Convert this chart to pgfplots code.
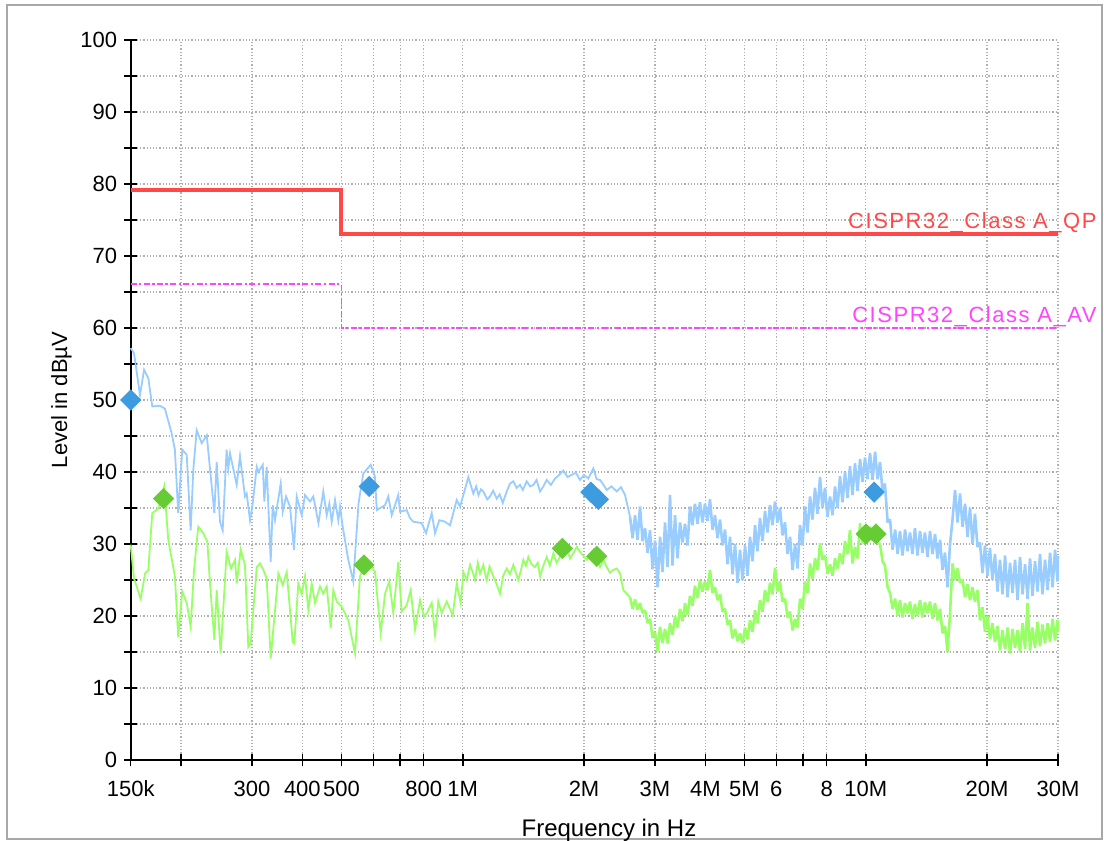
\documentclass[border=0pt]{standalone}
\usepackage{fontspec}
\setmainfont{Liberation Sans}
\newfontfamily\limfont[LetterSpace=7]{Liberation Sans}
\usepackage{pgfplots}
\usepackage{pgfplotstable}
\pgfplotsset{compat=1.18}

\definecolor{qpred}{HTML}{FF4848}
\definecolor{avmag}{HTML}{FF44FF}
\definecolor{pkblue}{HTML}{99CCFF}
\definecolor{avgreen}{HTML}{99FF66}
\definecolor{mkblue}{HTML}{3D9BE0}
\definecolor{mkgreen}{HTML}{66CC33}
\definecolor{gridgray}{HTML}{B0B0B0}
\definecolor{framegray}{HTML}{A8A8A8}

% dense part of the scan, f in MHz, b = peak trace, g = average trace
\pgfplotstableread{
f b g
2.601 33.8 22.6
2.639 30.8 21.0
2.677 34.0 22.3
2.715 30.6 20.9
2.754 35.2 21.8
2.794 30.4 20.4
2.834 32.2 20.8
2.875 28.8 19.0
2.916 31.9 19.6
2.958 26.5 17.0
3.001 30.5 17.8
3.044 24.0 15.1
3.088 31.0 18.5
3.132 26.1 16.3
3.177 33.0 18.2
3.223 26.8 16.2
3.269 36.8 19.0
3.316 27.0 17.4
3.364 34.0 20.0
3.412 28.0 18.4
3.462 33.0 21.0
3.511 30.2 19.3
3.562 32.8 21.8
3.613 29.8 20.2
3.664 35.2 22.8
3.717 32.6 21.4
3.770 35.6 24.2
3.825 32.8 22.5
3.880 35.8 25.0
3.936 33.0 23.4
3.992 35.6 24.8
4.050 33.2 23.6
4.108 36.2 26.4
4.167 32.0 23.2
4.227 34.0 24.0
4.288 30.8 22.2
4.350 33.4 23.0
4.413 29.8 20.6
4.476 32.0 21.0
4.541 27.2 18.8
4.606 31.0 19.4
4.672 25.8 16.9
4.739 30.0 18.2
4.808 24.6 16.5
4.877 29.2 17.6
4.947 25.0 16.2
5.018 29.8 18.4
5.090 25.6 16.8
5.163 31.0 19.4
5.237 27.6 17.8
5.313 32.6 20.8
5.389 29.0 19.0
5.467 33.6 22.2
5.545 30.4 20.6
5.625 34.6 23.6
5.706 31.6 22.0
5.788 35.4 24.6
5.871 32.6 23.0
5.956 35.9 26.7
6.041 33.0 23.4
6.128 35.0 24.8
6.216 31.2 22.0
6.306 33.0 22.4
6.397 28.6 19.8
6.491 31.0 20.6
6.584 26.4 18.0
6.679 30.0 19.6
6.775 26.6 18.4
6.871 32.6 22.4
6.970 29.8 21.0
7.070 35.2 24.8
7.172 31.6 23.2
7.275 36.6 27.3
7.379 33.4 25.2
7.486 37.8 28.0
7.594 34.2 26.4
7.702 39.3 30.1
7.813 35.0 27.8
7.925 37.8 28.4
8.039 33.8 25.9
8.155 36.6 27.2
8.272 34.0 25.6
8.391 38.0 28.0
8.512 35.0 26.6
8.634 39.4 28.7
8.758 35.8 27.2
8.884 40.0 30.4
9.012 36.4 28.6
9.141 40.8 31.9
9.273 36.8 27.3
9.406 41.2 29.6
9.541 37.4 28.0
9.681 41.8 32.9
9.820 38.6 30.0
9.961 42.0 32.6
10.10 39.0 30.6
10.25 42.6 32.4
10.40 38.9 30.4
10.55 42.8 32.0
10.70 39.0 30.2
10.85 41.4 30.0
11.01 37.2 27.6
11.16 38.4 27.0
11.33 33.0 24.0
11.49 33.4 23.2
11.66 29.2 21.0
11.83 32.0 22.4
12.00 28.6 20.0
12.16 31.8 22.2
12.34 28.4 19.8
12.52 32.0 21.8
12.70 29.0 20.4
12.88 31.6 22.0
13.06 28.6 19.6
13.25 32.2 21.6
13.44 28.4 20.0
13.64 31.8 22.2
13.83 28.8 19.8
14.03 31.6 21.9
14.23 28.2 20.4
14.44 31.8 22.0
14.65 28.6 19.6
14.86 31.4 21.8
15.07 28.0 19.4
15.29 30.6 21.0
15.51 26.4 17.6
15.73 28.8 18.6
15.96 24.0 15.0
16.19 30.0 20.4
16.42 33.4 27.3
16.66 37.5 25.0
16.90 33.0 26.6
17.14 37.0 24.6
17.39 32.4 25.0
17.64 35.6 22.6
17.89 31.0 24.4
18.15 35.0 22.2
18.41 30.0 24.0
18.67 34.2 22.0
18.94 29.6 23.6
19.21 30.2 19.4
19.49 26.0 21.2
19.77 29.8 17.8
20.05 25.6 20.0
20.34 29.4 16.8
20.63 25.0 19.0
20.93 28.6 16.4
21.23 23.4 18.6
21.54 27.8 15.2
21.85 23.0 18.0
22.17 28.4 15.4
22.49 22.6 18.4
22.81 27.4 14.8
23.14 23.2 18.2
23.47 27.8 15.6
23.81 22.2 18.0
24.15 28.2 15.0
24.50 23.0 19.0
24.85 27.2 15.4
25.21 22.4 21.8
25.57 28.0 15.2
25.94 22.8 18.4
26.31 27.6 15.6
26.69 23.4 19.2
27.07 28.6 15.8
27.46 23.0 18.8
27.86 27.8 16.2
28.26 23.6 19.0
28.67 28.8 16.4
29.08 24.0 19.6
29.50 29.2 16.6
29.92 24.8 19.4
30.00 28.4 17.8
}\dense

\begin{document}
\begin{tikzpicture}
\path[use as bounding box] (0,0) rectangle (552pt,420.5pt);
\draw[framegray, line width=0.8pt] (3.5pt,1pt) rectangle (551pt,418pt);
\begin{axis}[
    at={(65.35pt,40.5pt)}, anchor=south west,
    width=463.65pt, height=360pt, scale only axis,
    xmode=log, xmin=0.15, xmax=30, ymin=0, ymax=100,
    clip=false,
    axis x line*=bottom, axis y line*=left,
    axis line style={black, line width=0.9pt},
    xtick={0.15,0.2,0.3,0.4,0.5,0.6,0.7,0.8,1,2,3,4,5,6,7,8,10,20,30},
    xticklabels={150k,,300,400,500,,,800,1M,2M,3M,4M,5M,6,,8,10M,20M,30M},
    xminorticks=false,
    ytick={0,10,...,100},
    minor ytick={5,15,...,95},
    grid=both,
    grid style={gridgray, line width=0.6pt, dash pattern=on 0.6pt off 1pt},
    minor grid style={gridgray, line width=0.6pt, dash pattern=on 0.6pt off 1pt},
    tick align=center,
    major tick length=6.5pt, minor tick length=6.5pt,
    tick style={black, line width=0.8pt},
    /pgf/number format/assume math mode=true,
    ticklabel style={font=\fontsize{11}{13}\selectfont},
    xticklabel style={anchor=base, yshift=-15pt},
    yticklabel style={anchor=east},
    xlabel={Frequency in Hz},
    ylabel={Level in dBµV},
    xlabel style={font=\fontsize{12}{14}\selectfont, at={(axis description cs:0.5158,0)}, anchor=base, yshift=-38pt},
    ylabel style={font=\fontsize{11}{13}\selectfont, at={(axis description cs:-0.0746,0.5)}, anchor=center},
]

% average trace
\addplot[avgreen, line width=0.9pt] coordinates {
(0.150,29.9)(0.1529,25.2)(0.1588,22.4)(0.1628,25.9)(0.1659,26.4)(0.1697,34.3)(0.1756,34.9)(0.1817,38.0)
(0.1859,30.6)(0.1931,25.5)(0.1968,17.1)(0.2014,23.4)(0.2066,21.8)(0.2113,18.5)(0.2154,26.4)(0.2207,32.4)
(0.2271,31.5)(0.2324,30.3)(0.2360,24.5)(0.2419,16.7)(0.2452,23.6)(0.2508,14.8)(0.2595,28.9)(0.2661,26.6)
(0.2723,27.8)(0.2749,24.5)(0.2812,29.2)(0.2882,27.1)(0.2937,15.7)(0.2978,16.2)(0.3082,26.8)(0.3141,27.3)
(0.3201,26.4)(0.3263,25.2)(0.3338,14.1)(0.3487,25.9)(0.3576,24.3)(0.3658,26.1)(0.3786,16.4)(0.3821,16.2)
(0.3909,24.5)(0.3986,23.1)(0.4061,25.5)(0.4139,20.8)(0.4220,24.5)(0.4300,21.8)(0.4424,24.1)(0.4508,23.1)
(0.4597,24.1)(0.4704,18.3)(0.4774,23.6)(0.4868,22.0)(0.5009,21.3)(0.5201,19.4)(0.5404,14.8)(0.5560,25.5)
(0.5777,27.8)(0.6059,26.1)(0.6259,17.6)(0.6415,23.1)(0.6574,24.8)(0.6725,20.4)(0.6921,27.5)(0.7056,20.6)
(0.7261,21.5)(0.7429,23.6)(0.7613,18.1)(0.7834,22.2)(0.8014,19.9)(0.8140,20.4)(0.8376,21.8)(0.8536,17.4)
(0.8698,22.0)(0.8869,20.4)(0.9126,22.0)(0.9444,20.1)(0.9663,24.5)(0.9886,21.8)(1.0035,26.1)(1.0231,25.0)
(1.0426,27.1)(1.06,26.0)(1.0729,25.0)(1.09,27.4)(1.1039,25.9)(1.1249,27.1)(1.135,26.0)(1.1470,25.0)
(1.165,26.9)(1.1910,25.5)(1.21,24.6)(1.2376,23.1)(1.26,25.6)(1.2859,26.6)(1.31,25.8)(1.3353,27.1)
(1.355,26.0)(1.3741,25.0)(1.395,26.4)(1.4138,27.8)(1.435,27.0)(1.4548,28.2)(1.48,27.2)(1.5116,26.8)
(1.535,27.4)(1.5554,25.5)(1.585,27.0)(1.6161,28.2)(1.645,27.0)(1.6782,28.7)(1.71,27.4)(1.7437,28.2)
(1.775,28.8)(1.8117,29.6)(1.845,28.0)(1.8814,28.7)(1.92,29.6)(1.9548,28.9)(1.99,28.4)(2.0310,27.8)
(2.07,28.6)(2.1091,29.2)(2.15,28.0)(2.1915,26.8)(2.235,27.8)(2.2770,26.8)(2.32,26.0)(2.3645,26.4)
(2.41,26.6)(2.4569,25.9)(2.5036,23.6)(2.601,22.6)
};
\addplot[avgreen, line width=1.3pt, line join=bevel] table[x=f, y=g] {\dense};

% peak trace
\addplot[pkblue, line width=0.9pt] coordinates {
(0.150,57.2)(0.1529,56.5)(0.1582,50.7)(0.1619,54.2)(0.1659,53.0)(0.1697,49.1)(0.1773,49.2)(0.1824,48.8)
(0.1895,45.4)(0.1931,43.1)(0.1968,34.3)(0.2014,43.1)(0.2066,42.4)(0.2113,31.9)(0.2145,40.3)(0.2187,45.8)
(0.2251,44.0)(0.2316,45.1)(0.2419,34.3)(0.2452,41.4)(0.2498,33.1)(0.2537,31.9)(0.2595,43.1)(0.2620,40.5)
(0.2646,42.6)(0.2749,38.2)(0.2801,42.2)(0.2882,36.6)(0.2910,37.0)(0.2966,33.3)(0.3012,35.6)(0.3082,40.7)
(0.3111,40.0)(0.3190,41.0)(0.3219,35.9)(0.3263,40.7)(0.3338,27.5)(0.3377,35.4)(0.3421,33.3)(0.3535,38.4)
(0.3576,34.5)(0.3644,36.6)(0.3728,35.2)(0.3814,29.2)(0.3873,36.6)(0.3986,34.0)(0.4061,36.8)(0.4179,35.9)
(0.4259,36.6)(0.4385,32.9)(0.4508,37.3)(0.4597,34.0)(0.4666,35.6)(0.4731,33.1)(0.4821,36.1)(0.4913,33.3)
(0.4960,35.2)(0.5037,32.4)(0.5201,27.8)(0.5352,24.8)(0.5512,35.6)(0.5666,39.8)(0.5912,41.0)(0.6059,39.3)
(0.6118,34.7)(0.6415,35.4)(0.6537,36.6)(0.6665,34.0)(0.6921,36.8)(0.6988,34.5)(0.7261,34.7)(0.7399,33.6)
(0.7540,33.1)(0.7911,32.9)(0.8108,31.5)(0.8376,34.3)(0.8536,31.5)(0.8748,33.3)(0.9038,33.1)(0.9300,32.6)
(0.9663,36.1)(0.9847,35.2)(1.0035,36.8)(1.0326,39.3)(1.0624,37.0)(1.08,38.0)(1.0943,36.8)(1.11,37.6)
(1.1249,37.3)(1.15,36.2)(1.1688,36.6)(1.19,37.4)(1.2144,36.3)(1.235,36.9)(1.2568,35.7)(1.2859,37.3)
(1.31,38.4)(1.3353,38.7)(1.36,37.8)(1.3874,38.2)(1.41,37.5)(1.4415,38.7)(1.47,38.0)(1.4969,38.2)
(1.525,38.9)(1.5554,37.3)(1.585,38.0)(1.6161,38.9)(1.655,38.2)(1.6947,39.1)(1.735,39.6)(1.7768,40.2)
(1.82,39.3)(1.8644,39.6)(1.91,39.9)(1.9548,38.9)(2.00,39.6)(2.0498,39.1)(2.08,39.8)(2.1091,40.5)
(2.15,39.0)(2.1915,38.9)(2.23,38.3)(2.2770,37.5)(2.34,38.0)(2.4109,37.3)(2.47,37.9)(2.5282,36.8)(2.601,33.8)
};
\addplot[pkblue, line width=1.3pt, line join=bevel] table[x=f, y=b] {\dense};

% limit lines
\addplot[avmag, line width=0.8pt, dash pattern=on 3pt off 1.2pt on 1.2pt off 1.2pt]
  coordinates {(0.15,66.1)(0.5,66.1)(0.5,60.0)(30,60.0)};
\addplot[qpred, line width=2pt] coordinates {(0.15,79.2)(0.5,79.2)(0.5,73.1)(30,73.1)};

% final measurement points
\addplot[only marks, mark=square*, mark size=3.54pt,
  mark options={rotate=45, draw=mkblue, fill=mkblue}]
  coordinates {(0.150,50.0)(0.586,38.0)(2.08,37.2)(2.17,36.2)(10.49,37.2)};
\addplot[only marks, mark=square*, mark size=3.54pt,
  mark options={rotate=45, draw=mkgreen, fill=mkgreen}]
  coordinates {(0.181,36.3)(0.569,27.1)(1.767,29.4)(2.15,28.3)(10.02,31.4)(10.61,31.4)};

\node[anchor=base east, inner sep=0pt, text=qpred, font=\limfont\fontsize{11}{13}\selectfont]
  at ([xshift=19.5pt]axis cs:30,73.75) {CISPR32\_Class A\_QP};
\node[anchor=base east, inner sep=0pt, text=avmag, font=\limfont\fontsize{11}{13}\selectfont]
  at ([xshift=19.5pt]axis cs:30,60.83) {CISPR32\_Class A\_AV};
\end{axis}
\end{tikzpicture}
\end{document}
